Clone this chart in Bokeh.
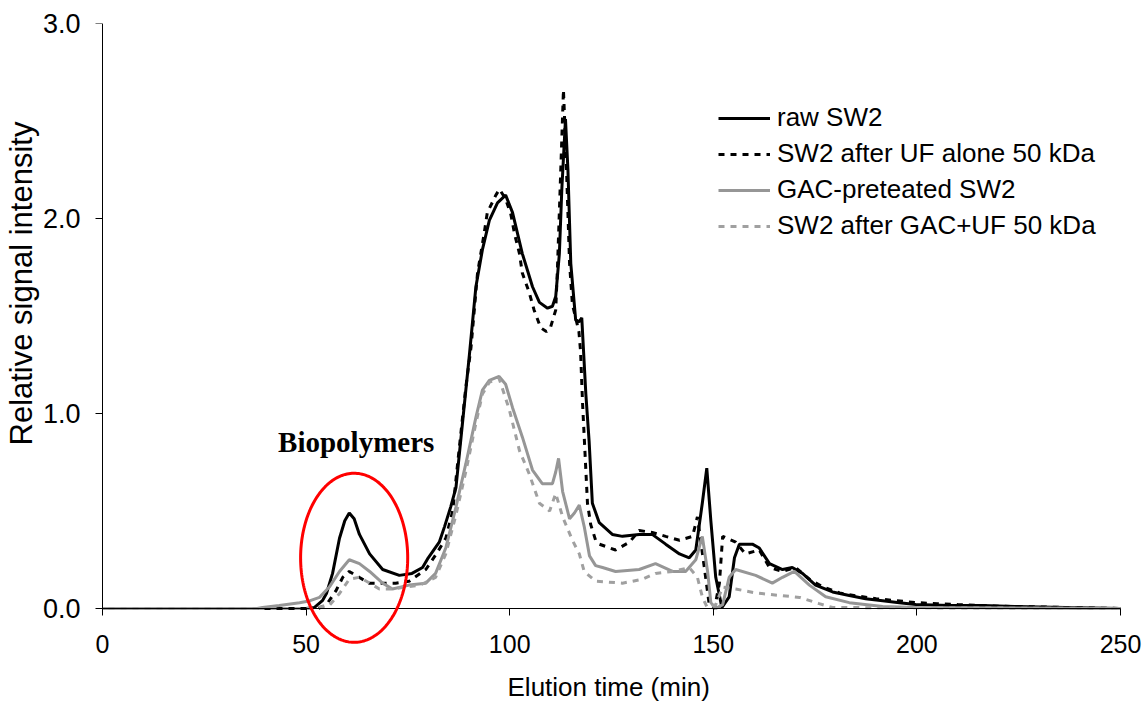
import numpy as np
from bokeh.plotting import figure
from bokeh.models import (Range1d, Legend, LegendItem, PolyAnnotation, Label, Title,
                          FixedTicker, NumeralTickFormatter, LinearAxis)
from bokeh.embed import file_html
from bokeh.resources import INLINE

# ---------------- data ----------------
raw_t = [0, 50, 52, 54, 55, 56.5, 58.2, 59.5, 60.6, 61.8, 63.1, 65.6, 68.8, 72.9, 76, 78.6, 80,
         82.7, 84, 85.5, 86.8, 88.4, 90.1, 91.7, 93.3, 95, 97, 99, 100.7, 103.1, 105.6, 107.3,
         109.3, 110.5, 111.3, 112.2, 112.8, 113.7, 114.3, 115, 116.2, 117, 117.7, 118.7, 119.5,
         120.3, 122, 125.2, 127.7, 131.8, 135, 138.3, 141.7, 144.1, 145.7, 147.3, 148.4, 149.4,
         150.6, 152.1, 153.9, 155.2, 156.4, 159.6, 161.3, 163.8, 167, 169.4, 171.9, 175.1, 179.3,
         183.4, 187.4, 191.6, 195.7, 199.7, 208, 216, 224, 236.5, 250]
raw_v = [0, 0, 0.005, 0.04, 0.077, 0.18, 0.36, 0.45, 0.49, 0.46, 0.38, 0.28, 0.2, 0.17, 0.18,
         0.21, 0.26, 0.34, 0.42, 0.52, 0.62, 0.95, 1.3, 1.65, 1.84, 1.99, 2.08, 2.12, 2.03, 1.82,
         1.65, 1.57, 1.54, 1.55, 1.6, 1.82, 2.15, 2.51, 2.25, 1.77, 1.48, 1.47, 1.49, 1.1, 0.86,
         0.54, 0.44, 0.38, 0.37, 0.38, 0.38, 0.33, 0.28, 0.26, 0.3, 0.54, 0.72, 0.45, 0.16, 0.005,
         0.06, 0.26, 0.33, 0.33, 0.31, 0.23, 0.2, 0.21, 0.18, 0.12, 0.085, 0.067, 0.05, 0.04, 0.03,
         0.02, 0.015, 0.015, 0.01, 0.005, 0]

uf_t = [0, 50, 53, 55, 57.3, 59, 60.6, 63, 65.5, 68, 72, 75.3, 79.4, 82, 84.3, 86, 87.5, 89.2,
        90.5, 91.3, 92.1, 93.7, 94.5, 96.6, 97.5, 99, 100.3, 101.2, 102.4, 103.1, 104.8, 106,
        107.6, 109, 110, 111.3, 111.7, 112.3, 113.2, 113.8, 114.7, 115.4, 117, 117.4, 117.9,
        119.1, 119.9, 121.1, 122, 126, 129.4, 131.8, 135, 138.3, 141.7, 144.9, 146.1, 147.8, 149,
        150.3, 151.5, 152.3, 155.5, 157.9, 161.3, 163.8, 167, 170.2, 173.6, 177, 181, 185, 190,
        195, 200, 205, 210, 220, 230, 240, 250]
uf_v = [0, 0, 0, 0.02, 0.09, 0.16, 0.19, 0.16, 0.13, 0.13, 0.13, 0.14, 0.2, 0.28, 0.36, 0.5, 0.8,
        1.13, 1.34, 1.53, 1.72, 1.92, 2.03, 2.12, 2.15, 2.1, 2.02, 1.92, 1.82, 1.72, 1.62, 1.53,
        1.44, 1.42, 1.44, 1.53, 1.73, 2.1, 2.66, 2.35, 1.77, 1.56, 1.42, 1.32, 1.05, 0.54, 0.43,
        0.35, 0.33, 0.3, 0.34, 0.4, 0.39, 0.37, 0.35, 0.37, 0.47, 0.21, 0.02, 0, 0.13, 0.37, 0.34,
        0.28, 0.3, 0.21, 0.19, 0.21, 0.15, 0.11, 0.08, 0.065, 0.05, 0.04, 0.03, 0.025, 0.02, 0.012,
        0.008, 0.004, 0]

gac_t = [0, 38, 39.3, 43.4, 48.4, 51, 53.3, 55.7, 58.2, 60.6, 63.1, 65.6, 68.8, 71.2, 75.3, 79.4,
         81.8, 84.3, 86.8, 89.2, 91.7, 93.3, 95, 97.4, 99, 100.7, 103.1, 105.6, 108, 110.5, 111.3,
         112, 113, 114.7, 115.9, 117.1, 118.3, 119.6, 121.1, 122.8, 126, 131.8, 135.8, 140, 143.2,
         145.7, 147.3, 148.6, 149.4, 150.6, 152.3, 153.9, 155.5, 160.4, 164.5, 167, 169.9, 173.6,
         177.6, 183.4, 191.6, 200, 250]
gac_v = [0, 0, 0.005, 0.015, 0.03, 0.04, 0.057, 0.11, 0.19, 0.25, 0.23, 0.19, 0.13, 0.1, 0.12,
         0.13, 0.18, 0.31, 0.52, 0.74, 0.98, 1.12, 1.17, 1.19, 1.15, 1.03, 0.88, 0.71, 0.64, 0.64,
         0.7, 0.77, 0.6, 0.46, 0.49, 0.53, 0.42, 0.27, 0.22, 0.21, 0.19, 0.2, 0.23, 0.19, 0.19,
         0.25, 0.37, 0.19, 0.03, 0, 0.02, 0.16, 0.2, 0.17, 0.13, 0.16, 0.19, 0.12, 0.06, 0.03, 0.01,
         0.005, 0]

gacuf_t = [0, 50.8, 55.7, 58.2, 60.6, 63.1, 65.6, 68, 71.2, 74.4, 78, 81.8, 84.3, 86.8, 89.2,
           91.7, 93.3, 95, 97.4, 99.9, 102.4, 104.8, 107.3, 109.8, 111.3, 113, 115.4, 117.1,
           118.3, 121.1, 127.7, 132.6, 135.8, 140, 144.1, 146.1, 147.3, 148.5, 150.6, 152.3,
           155.5, 160.4, 166.3, 171.2, 176, 179.3, 250]
gacuf_v = [0, 0, 0.015, 0.077, 0.15, 0.16, 0.13, 0.1, 0.1, 0.11, 0.12, 0.16, 0.28, 0.48, 0.7,
           0.95, 1.1, 1.16, 1.18, 1.02, 0.81, 0.69, 0.54, 0.5, 0.59, 0.47, 0.35, 0.28, 0.19, 0.14,
           0.13, 0.15, 0.18, 0.19, 0.21, 0.16, 0.06, 0.005, 0.02, 0.11, 0.1, 0.08, 0.067, 0.057,
           0.025, 0.005, 0]

series_names = ["raw SW2", "SW2 after UF alone 50 kDa", "GAC-preteated SW2",
                "SW2 after GAC+UF 50 kDa"]
x_ticks = [0, 50, 100, 150, 200, 250]
y_ticks = [0, 1, 2, 3]
x_title = "Elution time (min)"
y_title = "Relative signal intensity"

annot_text = "Biopolymers"
annot_x, annot_y = 62.3, 0.855
ell_cx, ell_cy, ell_w, ell_h = 61.8, 0.26, 26.3, 0.867
xtitle_x, xtitle_y = 124.3, -0.40

# ---------------- figure ----------------
FONT = "Liberation Sans"
p = figure(frame_width=1051, frame_height=679, output_backend="svg", toolbar_location=None,
           x_range=Range1d(-2.456, 255.65), y_range=Range1d(-0.482, 3.0),
           min_border_left=90, min_border_right=2, min_border_top=23, min_border_bottom=0)
p.outline_line_color = None
p.xgrid.visible = False
p.ygrid.visible = False
p.background_fill_color = "white"
p.border_fill_color = "white"

# x axis drawn at y = 0
xa = p.xaxis[0]
xa.fixed_location = 0
xa.bounds = (0, 250)
xa.ticker = FixedTicker(ticks=x_ticks)
xa.axis_line_color = "black"
xa.major_tick_in = 0
xa.major_tick_out = 7
xa.major_tick_line_color = "black"
xa.minor_tick_line_color = None
xa.major_label_text_font = FONT
xa.major_label_text_font_size = "25px"
xa.major_label_text_color = "black"
xa.major_label_standoff = 19

# y tick labels (left panel), line/ticks hidden
ya = p.yaxis[0]
ya.bounds = (0, 3)
ya.ticker = FixedTicker(ticks=y_ticks)
ya.formatter = NumeralTickFormatter(format="0.0")
ya.axis_line_color = None
ya.major_tick_line_color = None
ya.minor_tick_line_color = None
ya.major_tick_in = 0
ya.major_tick_out = 0
ya.major_label_text_font = FONT
ya.major_label_text_font_size = "27px"
ya.major_label_text_color = "black"
ya.major_label_standoff = 12

# y axis line and ticks at x = 0
ya2 = LinearAxis(fixed_location=0, bounds=(0, 3), ticker=FixedTicker(ticks=y_ticks),
                 major_label_overrides={t: "" for t in y_ticks},
                 axis_line_color="black", major_tick_line_color="black",
                 minor_tick_line_color=None, major_tick_in=0, major_tick_out=7)
p.add_layout(ya2, "left")

p.add_layout(Title(text=y_title, align="left", offset=257, standoff=2,
                   text_font=FONT, text_font_size="31px", text_font_style="normal",
                   text_color="black"), "left")

r1 = p.line(raw_t, raw_v, line_color="black", line_width=3)
r2 = p.line(uf_t, uf_v, line_color="black", line_width=3, line_dash="6 6")
r3 = p.line(gac_t, gac_v, line_color="#969696", line_width=3)
r4 = p.line(gacuf_t, gacuf_v, line_color="#a0a0a0", line_width=3, line_dash="6 6")

legend = Legend(items=[LegendItem(label=n, renderers=[r]) for n, r in
                       zip(series_names, [r1, r2, r3, r4])],
                location=(626, 461), orientation="vertical",
                border_line_color=None, background_fill_alpha=0,
                padding=0, margin=0, spacing=5, label_standoff=7,
                glyph_width=52, glyph_height=20, label_height=30,
                label_text_font=FONT, label_text_font_size="26px", label_text_color="black")
p.add_layout(legend)

theta = np.linspace(0, 2 * np.pi, 200)
ex = ell_cx + ell_w / 2 * np.cos(theta)
ey = ell_cy + ell_h / 2 * np.sin(theta)
p.add_layout(PolyAnnotation(xs=list(ex), ys=list(ey), xs_units="data", ys_units="data",
                            line_color="red", line_alpha=1.0, line_width=3,
                            fill_alpha=0, fill_color=None))

p.add_layout(Label(x=annot_x, y=annot_y, text=annot_text, text_align="center",
                   text_baseline="middle", text_font="Liberation Serif", text_font_style="bold",
                   text_font_size="29px", text_color="black"))

p.add_layout(Label(x=xtitle_x, y=xtitle_y, text=x_title, text_align="center",
                   text_baseline="middle", text_font=FONT, text_font_size="26px",
                   text_color="black"))

open("out.html", "w").write(file_html(p, INLINE))
